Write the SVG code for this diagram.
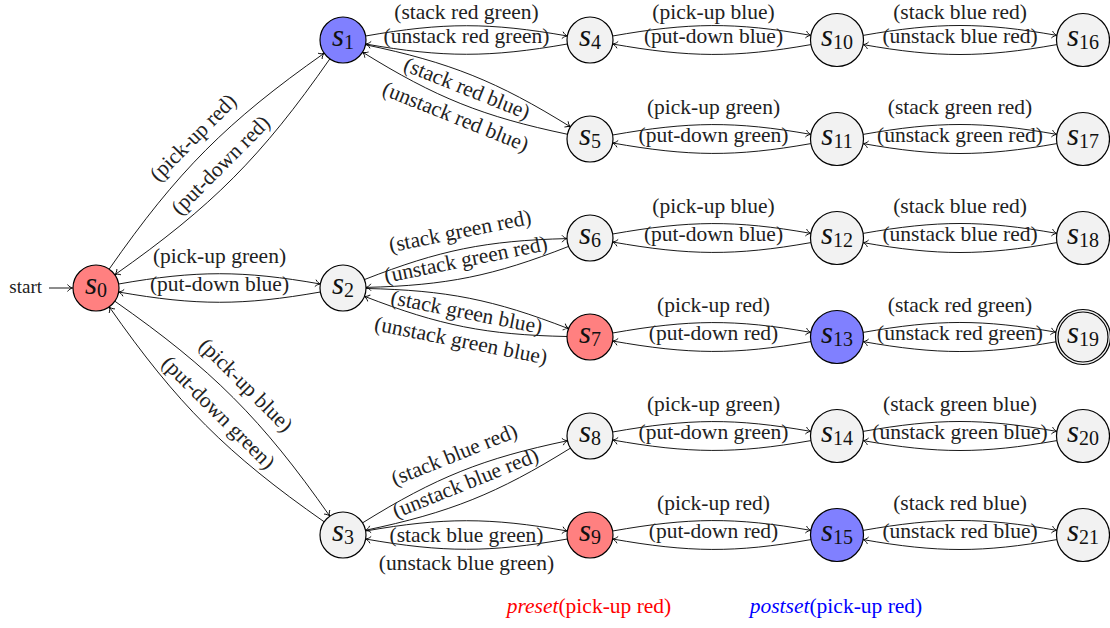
<svg xmlns="http://www.w3.org/2000/svg" width="1110" height="628" viewBox="0 0 1110 628">
<defs>
<marker id="arr" viewBox="-6 -5 7 10" markerWidth="7" markerHeight="10" refX="0" refY="0" orient="auto" markerUnits="userSpaceOnUse">
<path d="M-5,-3.5 C-3.5,-1.4 -1.5,-0.4 0,0 C-1.5,0.4 -3.5,1.4 -5,3.5" fill="none" stroke="#000" stroke-width="0.9"/>
</marker>
<style>
.e{fill:none;stroke:#000;stroke-width:0.9;marker-end:url(#arr)}
.n{stroke:#000;stroke-width:1.2}
.g{fill:#f2f2f2}.r{fill:#ff8080}.b{fill:#8080ff}
.nl{font-family:"Liberation Serif",serif;font-size:31px;font-style:italic;text-anchor:middle;fill:#111}
.sub{font-size:20px;font-style:normal}
.l{font-family:"Liberation Serif",serif;font-size:21.5px;text-anchor:middle;fill:#222}
.st{font-family:"Liberation Serif",serif;font-size:19px;text-anchor:end;fill:#222}
</style>
</defs>
<rect width="1110" height="628" fill="#fff"/>
<g id="connectors">
<path class="e" d="M49,288 L72.5,288"/>
<path class="e" d="M109.16,269.13 C177.4,171.27 226.6,121.86 324.19,53.23"/>
<path class="e" d="M329.84,58.87 C261.6,156.73 212.4,206.14 114.81,274.77"/>
<path class="e" d="M118.65,284 C196.45,270.3 242.55,270.3 320.35,284"/>
<path class="e" d="M320.35,292 C242.55,305.7 196.45,305.7 118.65,292"/>
<path class="e" d="M114.84,301.19 C212.31,369.45 261.55,418.69 329.81,516.16"/>
<path class="e" d="M324.16,521.81 C226.69,453.55 177.45,404.31 109.19,306.84"/>
<path class="e" d="M365.65,36 C443.45,22.3 489.55,22.3 567.35,36"/>
<path class="e" d="M567.35,44 C489.55,57.7 443.45,57.7 365.65,44"/>
<path class="e" d="M365.51,44.72 C450.07,62.45 497.06,81.3 570.46,126.87"/>
<path class="e" d="M567.49,134.28 C482.93,116.55 435.94,97.7 362.54,52.13"/>
<path class="e" d="M364.41,279.59 C439.71,250.02 486.14,240.63 567.01,238.58"/>
<path class="e" d="M568.59,246.41 C493.29,275.98 446.86,285.37 365.99,287.42"/>
<path class="e" d="M366,288.49 C446.78,290.21 493.24,299.44 568.56,328.68"/>
<path class="e" d="M567,336.51 C486.22,334.79 439.76,325.56 364.44,296.32"/>
<path class="e" d="M362.54,522.87 C435.94,477.3 482.93,458.45 567.49,440.72"/>
<path class="e" d="M570.46,448.13 C497.06,493.7 450.07,512.55 365.51,530.28"/>
<path class="e" d="M365.65,531 C443.45,517.3 489.55,517.3 567.35,531"/>
<path class="e" d="M567.35,539 C489.55,552.7 443.45,552.7 365.65,539"/>
<path class="e" d="M612.65,36 C689.05,22.5 734.5,21.9 810.9,35.4"/>
<path class="e" d="M810.9,44.6 C734.5,58.1 689.05,57.5 612.65,44"/>
<path class="e" d="M612.65,135 C689.05,121.5 734.5,120.9 810.9,134.4"/>
<path class="e" d="M810.9,143.6 C734.5,157.1 689.05,156.5 612.65,143"/>
<path class="e" d="M612.65,234 C689.05,220.5 734.5,219.9 810.9,233.4"/>
<path class="e" d="M810.9,242.6 C734.5,256.1 689.05,255.5 612.65,242"/>
<path class="e" d="M612.65,333 C689.05,319.5 734.5,318.9 810.9,332.4"/>
<path class="e" d="M810.9,341.6 C734.5,355.1 689.05,354.5 612.65,341"/>
<path class="e" d="M612.65,432 C689.05,418.5 734.5,417.9 810.9,431.4"/>
<path class="e" d="M810.9,440.6 C734.5,454.1 689.05,453.5 612.65,440"/>
<path class="e" d="M612.65,531 C689.05,517.5 734.5,516.9 810.9,530.4"/>
<path class="e" d="M810.9,539.6 C734.5,553.1 689.05,552.5 612.65,539"/>
<path class="e" d="M863.1,35.4 C937.8,22.2 982.2,22.2 1056.9,35.4"/>
<path class="e" d="M1056.9,44.6 C982.2,57.8 937.8,57.8 863.1,44.6"/>
<path class="e" d="M863.1,134.4 C937.8,121.2 982.2,121.2 1056.9,134.4"/>
<path class="e" d="M1056.9,143.6 C982.2,156.8 937.8,156.8 863.1,143.6"/>
<path class="e" d="M863.1,233.4 C937.8,220.2 982.2,220.2 1056.9,233.4"/>
<path class="e" d="M1056.9,242.6 C982.2,255.8 937.8,255.8 863.1,242.6"/>
<path class="e" d="M863.1,332.4 C937.8,319.2 982.2,319.2 1055.9,332.2"/>
<path class="e" d="M1055.9,341.8 C982.2,354.8 937.8,354.8 863.1,341.6"/>
<path class="e" d="M863.1,431.4 C937.8,418.2 982.2,418.2 1056.9,431.4"/>
<path class="e" d="M1056.9,440.6 C982.2,453.8 937.8,453.8 863.1,440.6"/>
<path class="e" d="M863.1,530.4 C937.8,517.2 982.2,517.2 1056.9,530.4"/>
<path class="e" d="M1056.9,539.6 C982.2,552.8 937.8,552.8 863.1,539.6"/>
</g>
<g id="edge-labels">
<text class="st" x="42" y="293">start</text>
<text class="l" transform="translate(194.4,138.9) rotate(-45.1)" y="5">(pick-up red)</text>
<text class="l" transform="translate(222,166.5) rotate(-45.1)" y="5">(put-down red)</text>
<text class="l" x="219.5" y="262.7">(pick-up green)</text>
<text class="l" x="219.5" y="291.3">(put-down blue)</text>
<text class="l" transform="translate(244.6,386.4) rotate(45)" y="5">(pick-up blue)</text>
<text class="l" transform="translate(217,414) rotate(45)" y="5">(put-down green)</text>
<text class="l" x="466.5" y="18.5">(stack red green)</text>
<text class="l" x="466.5" y="43.3">(unstack red green)</text>
<text class="l" transform="translate(466.2,90.2) rotate(21.84)" y="5">(stack red blue)</text>
<text class="l" transform="translate(454.9,118.5) rotate(21.84)" y="5">(unstack red blue)</text>
<text class="l" transform="translate(460.4,233.1) rotate(-11.44)" y="5">(stack green red)</text>
<text class="l" transform="translate(466.2,261.5) rotate(-11.44)" y="5">(unstack green red)</text>
<text class="l" transform="translate(466.2,314) rotate(11.22)" y="5">(stack green blue)</text>
<text class="l" transform="translate(460.6,342.4) rotate(11.22)" y="5">(unstack green blue)</text>
<text class="l" transform="translate(454.9,456.5) rotate(-21.84)" y="5">(stack blue red)</text>
<text class="l" transform="translate(466.2,484.8) rotate(-21.84)" y="5">(unstack blue red)</text>
<text class="l" x="466.5" y="541.7">(stack blue green)</text>
<text class="l" x="466.5" y="570.3">(unstack blue green)</text>
<text class="l" x="713.5" y="18.5">(pick-up blue)</text>
<text class="l" x="713.5" y="43.3">(put-down blue)</text>
<text class="l" x="713.5" y="113.7">(pick-up green)</text>
<text class="l" x="713.5" y="142.3">(put-down green)</text>
<text class="l" x="713.5" y="212.7">(pick-up blue)</text>
<text class="l" x="713.5" y="241.3">(put-down blue)</text>
<text class="l" x="713.5" y="311.7">(pick-up red)</text>
<text class="l" x="713.5" y="340.3">(put-down red)</text>
<text class="l" x="713.5" y="410.7">(pick-up green)</text>
<text class="l" x="713.5" y="439.3">(put-down green)</text>
<text class="l" x="713.5" y="509.7">(pick-up red)</text>
<text class="l" x="713.5" y="538.3">(put-down red)</text>
<text class="l" x="960" y="18.5">(stack blue red)</text>
<text class="l" x="960" y="43.3">(unstack blue red)</text>
<text class="l" x="960" y="113.7">(stack green red)</text>
<text class="l" x="960" y="142.3">(unstack green red)</text>
<text class="l" x="960" y="212.7">(stack blue red)</text>
<text class="l" x="960" y="241.3">(unstack blue red)</text>
<text class="l" x="960" y="311.7">(stack red green)</text>
<text class="l" x="960" y="340.3">(unstack red green)</text>
<text class="l" x="960" y="410.7">(stack green blue)</text>
<text class="l" x="960" y="439.3">(unstack green blue)</text>
<text class="l" x="960" y="509.7">(stack red blue)</text>
<text class="l" x="960" y="538.3">(unstack red blue)</text>
</g>
<g id="s0"><circle class="n r" cx="96" cy="288" r="23"/><text class="nl" x="96" y="293.5">s<tspan class="sub" dy="3">0</tspan></text></g>
<g id="s1"><circle class="n b" cx="343" cy="40" r="23"/><text class="nl" x="343" y="45.5">s<tspan class="sub" dy="3">1</tspan></text></g>
<g id="s2"><circle class="n g" cx="343" cy="288" r="23"/><text class="nl" x="343" y="293.5">s<tspan class="sub" dy="3">2</tspan></text></g>
<g id="s3"><circle class="n g" cx="343" cy="535" r="23"/><text class="nl" x="343" y="540.5">s<tspan class="sub" dy="3">3</tspan></text></g>
<g id="s4"><circle class="n g" cx="590" cy="40" r="23"/><text class="nl" x="590" y="45.5">s<tspan class="sub" dy="3">4</tspan></text></g>
<g id="s5"><circle class="n g" cx="590" cy="139" r="23"/><text class="nl" x="590" y="144.5">s<tspan class="sub" dy="3">5</tspan></text></g>
<g id="s6"><circle class="n g" cx="590" cy="238" r="23"/><text class="nl" x="590" y="243.5">s<tspan class="sub" dy="3">6</tspan></text></g>
<g id="s7"><circle class="n r" cx="590" cy="337" r="23"/><text class="nl" x="590" y="342.5">s<tspan class="sub" dy="3">7</tspan></text></g>
<g id="s8"><circle class="n g" cx="590" cy="436" r="23"/><text class="nl" x="590" y="441.5">s<tspan class="sub" dy="3">8</tspan></text></g>
<g id="s9"><circle class="n r" cx="590" cy="535" r="23"/><text class="nl" x="590" y="540.5">s<tspan class="sub" dy="3">9</tspan></text></g>
<g id="s10"><circle class="n g" cx="837" cy="40" r="26.5"/><text class="nl" x="837" y="45.5">s<tspan class="sub" dy="3">10</tspan></text></g>
<g id="s11"><circle class="n g" cx="837" cy="139" r="26.5"/><text class="nl" x="837" y="144.5">s<tspan class="sub" dy="3">11</tspan></text></g>
<g id="s12"><circle class="n g" cx="837" cy="238" r="26.5"/><text class="nl" x="837" y="243.5">s<tspan class="sub" dy="3">12</tspan></text></g>
<g id="s13"><circle class="n b" cx="837" cy="337" r="26.5"/><text class="nl" x="837" y="342.5">s<tspan class="sub" dy="3">13</tspan></text></g>
<g id="s14"><circle class="n g" cx="837" cy="436" r="26.5"/><text class="nl" x="837" y="441.5">s<tspan class="sub" dy="3">14</tspan></text></g>
<g id="s15"><circle class="n b" cx="837" cy="535" r="26.5"/><text class="nl" x="837" y="540.5">s<tspan class="sub" dy="3">15</tspan></text></g>
<g id="s16"><circle class="n g" cx="1083" cy="40" r="26.5"/><text class="nl" x="1083" y="45.5">s<tspan class="sub" dy="3">16</tspan></text></g>
<g id="s17"><circle class="n g" cx="1083" cy="139" r="26.5"/><text class="nl" x="1083" y="144.5">s<tspan class="sub" dy="3">17</tspan></text></g>
<g id="s18"><circle class="n g" cx="1083" cy="238" r="26.5"/><text class="nl" x="1083" y="243.5">s<tspan class="sub" dy="3">18</tspan></text></g>
<g id="s19"><circle class="n g" cx="1083" cy="337" r="27.5"/><circle class="n g" cx="1083" cy="337" r="25"/><text class="nl" x="1083" y="342.5">s<tspan class="sub" dy="3">19</tspan></text></g>
<g id="s20"><circle class="n g" cx="1083" cy="436" r="26.5"/><text class="nl" x="1083" y="441.5">s<tspan class="sub" dy="3">20</tspan></text></g>
<g id="s21"><circle class="n g" cx="1083" cy="535" r="26.5"/><text class="nl" x="1083" y="540.5">s<tspan class="sub" dy="3">21</tspan></text></g>
<g id="legend">
<text class="l" x="589" y="613" style="fill:#ff0000"><tspan font-style="italic">preset</tspan>(pick-up red)</text>
<text class="l" x="836" y="613" style="fill:#0000ff"><tspan font-style="italic">postset</tspan>(pick-up red)</text>
</g>
</svg>
